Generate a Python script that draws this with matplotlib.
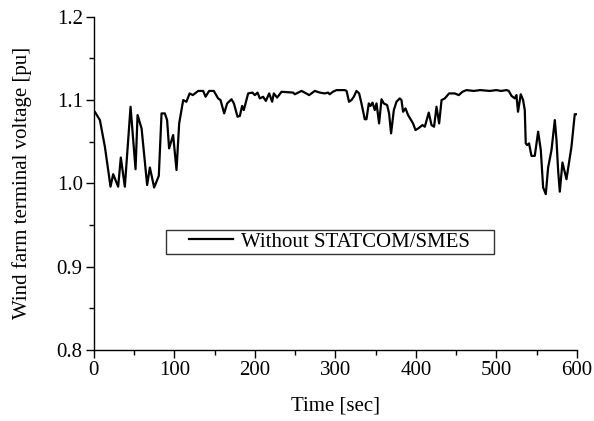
import matplotlib
matplotlib.use("Agg")
import matplotlib.pyplot as plt
from matplotlib.ticker import MultipleLocator
from matplotlib.legend_handler import HandlerLine2D

# Wind farm terminal voltage without STATCOM/SMES
time_s = [0, 1.2, 7.5, 13.7, 20.7, 24, 30.2, 33.5, 38.5, 45.6, 51.8, 54.3, 59.3,
          66.2, 69.6, 74.9, 80.7, 84.1, 88.2, 91, 93.5, 98.5, 102.7, 106, 111,
          115, 119, 123, 129.6, 135.8, 138.8, 143.2, 149, 154.4, 157.4, 161.9,
          165.6, 171, 174, 178.5, 181.4, 184.2, 186.3, 191.7, 197, 200, 203.4,
          206.2, 210.3, 213.7, 217.8, 221.5, 223.6, 227.7, 233.2, 247.6, 249.7,
          258, 262, 267.5, 274.5, 280.7, 287, 291, 293, 297, 301.5, 311.8, 314,
          317, 320, 323, 326.3, 329.6, 332.5, 336.6, 338.7, 341.6, 343.7, 346.2,
          349, 351.2, 354.4, 357.4, 360.2, 364.4, 366.8, 369.3, 372.7, 376, 380,
          382.2, 384.2, 387.2, 390.4, 396.6, 399.6, 403, 408.3, 411.2, 416.1,
          419.5, 422.7, 425.7, 429, 432, 436, 441.4, 448.4, 453.4, 458, 463,
          472, 480, 492, 500, 506, 512.7, 515.5, 519, 523, 525, 527, 530.4,
          533.3, 535.4, 536.6, 538.3, 540.7, 543.7, 547.8, 552, 555.3, 558.2,
          561.5, 564.4, 568.6, 572.7, 574.8, 576.8, 578.9, 582.2, 587.2, 593.4,
          597.5, 600]
voltage_pu = [1.086, 1.086, 1.076, 1.044, 0.996, 1.011, 0.996, 1.031, 0.996,
              1.092, 1.017, 1.082, 1.066, 0.998, 1.019, 0.995, 1.009, 1.084,
              1.084, 1.076, 1.042, 1.058, 1.016, 1.072, 1.100, 1.098, 1.108,
              1.106, 1.111, 1.111, 1.104, 1.111, 1.111, 1.102, 1.100, 1.084,
              1.096, 1.101, 1.096, 1.080, 1.081, 1.093, 1.088, 1.108, 1.109,
              1.106, 1.109, 1.102, 1.104, 1.099, 1.108, 1.098, 1.108, 1.103,
              1.110, 1.109, 1.107, 1.111, 1.109, 1.106, 1.111, 1.109, 1.108,
              1.109, 1.107, 1.110, 1.112, 1.112, 1.111, 1.098, 1.100, 1.104,
              1.111, 1.108, 1.096, 1.077, 1.077, 1.096, 1.093, 1.097, 1.088,
              1.096, 1.072, 1.101, 1.096, 1.094, 1.084, 1.060, 1.088, 1.098,
              1.102, 1.100, 1.086, 1.090, 1.082, 1.072, 1.064, 1.066, 1.070,
              1.068, 1.085, 1.070, 1.068, 1.092, 1.072, 1.100, 1.102, 1.108,
              1.108, 1.106, 1.110, 1.112, 1.111, 1.112, 1.111, 1.112, 1.111,
              1.112, 1.111, 1.105, 1.102, 1.106, 1.086, 1.107, 1.100, 1.088,
              1.048, 1.046, 1.048, 1.033, 1.033, 1.062, 1.040, 0.995, 0.987,
              1.019, 1.040, 1.076, 1.052, 1.016, 0.990, 1.025, 1.005, 1.044,
              1.083, 1.083]

x_ticks = [0, 100, 200, 300, 400, 500, 600]
y_ticks = [0.8, 0.9, 1.0, 1.1, 1.2]

plt.rcParams["font.family"] = ["Liberation Serif", "DejaVu Serif"]

fig = plt.figure(figsize=(5.94, 4.21), dpi=100)
ax = fig.add_axes([0.158, 0.169, 0.813, 0.791])

line, = ax.plot(time_s, voltage_pu, color="black", linewidth=1.6,
                label="Without STATCOM/SMES    ")

ax.set_xlim(0, 600)
ax.set_ylim(0.8, 1.2)
ax.set_xticks(x_ticks)
ax.set_yticks(y_ticks)
ax.set_yticklabels([f"{v:.1f}" for v in y_ticks])
ax.xaxis.set_minor_locator(MultipleLocator(50))
ax.yaxis.set_minor_locator(MultipleLocator(0.05))
ax.tick_params(which="major", direction="out", length=6, width=1,
               labelsize=15, colors="black", pad=2)
ax.tick_params(which="minor", direction="out", length=3.5, width=1)

for side in ("top", "right"):
    ax.spines[side].set_visible(False)
for side in ("left", "bottom"):
    ax.spines[side].set_linewidth(1)

ax.set_xlabel("Time [sec]", fontsize=15, labelpad=12)
ax.set_ylabel("Wind farm terminal voltage [pu]", fontsize=15, labelpad=18)

# Indent the legend sample line from the left edge of the frame
leg = ax.legend(loc="center", bbox_to_anchor=(0.489, 0.324), fontsize=15,
                frameon=True, fancybox=False, handlelength=3.1,
                borderpad=0.12, handletextpad=0.38, borderaxespad=0,
                handler_map={line: HandlerLine2D(xpad=0.96)})
leg.get_frame().set_edgecolor("black")
leg.get_frame().set_linewidth(1)

fig.savefig("out.png", dpi=100)
